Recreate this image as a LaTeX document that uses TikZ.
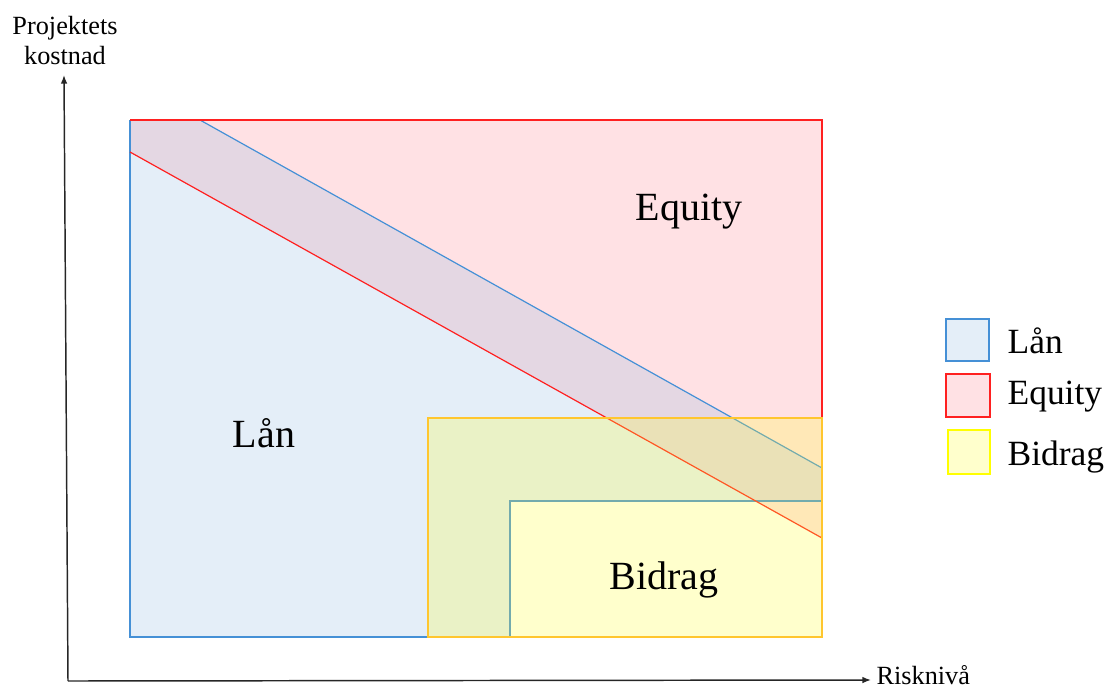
\documentclass[tikz,border=0pt]{standalone}
\usepackage{fontspec}
\setmainfont{Liberation Serif}
\usepackage{tikz}
\usetikzlibrary{arrows.meta}
\definecolor{lanLine}{HTML}{4590D6}
\definecolor{lanFill}{RGB}{147,187,227}
\definecolor{eqLine}{HTML}{FF2020}
\definecolor{eqFill}{RGB}{255,135,147}
\definecolor{bidLine}{HTML}{FFC62E}
\definecolor{bidFill}{RGB}{255,255,51}
\definecolor{keyYellow}{HTML}{FFFF00}
\definecolor{axisGray}{HTML}{262626}

\begin{document}
\begin{tikzpicture}[x=0.75pt, y=-0.75pt, line width=0.9pt,
  area/.style={fill opacity=0.25},
  bigLabel/.style={font=\fontsize{30}{36}\selectfont, anchor=base, inner sep=0pt},
  keyLabel/.style={font=\fontsize{26.6}{32}\selectfont, anchor=base west, inner sep=0pt},
  axisLabel/.style={font=\fontsize{19.7}{22.5}\selectfont, inner sep=0pt},
  keyBox/.style={line width=1.1pt}]
\useasboundingbox (0,0) rectangle (1107,689);
% axes (slightly tilted, as drawn by hand)
\coordinate (origin) at (68,681);
\coordinate (ytip) at (64,75);
\coordinate (xtip) at (871,680);
\draw[axisGray, line width=1.1pt, -{Latex[length=6.5pt,width=5pt]}] (origin) -- (ytip);
\draw[axisGray, line width=1.1pt, -{Latex[length=6.5pt,width=5pt]}] (origin) -- (xtip);
\node[axisLabel, align=center, anchor=south] (yLabel) at (65,65) {Projektets\\kostnad};
\node[axisLabel, anchor=base west] (xLabel) at (876,684) {Risknivå};
% Equity and Lån areas
\fill[eqFill, area] (130,120) -- (822,120) -- (822,538) -- (130,152) -- cycle;
\fill[lanFill, area] (130,120) -- (200,120) -- (822,468) -- (822,501) -- (510,501)
  -- (510,637) -- (130,637) -- cycle;
% their borders
\draw[lanLine] (130,120) -- (130,637) -- (428,637);
\draw[lanLine] (200,120) -- (822,468);
\draw[lanLine] (822,501) -- (510,501) -- (510,637);
\draw[eqLine] (130,152) -- (822,538);
\draw[eqLine] (130,120) -- (822,120) -- (822,418);
% Bidrag on top
\filldraw[draw=bidLine, fill=bidFill, area] (428,418) rectangle (822,637);
\node[bigLabel] (equityText) at (689,220) {Equity};
\node[bigLabel] (lanText) at (264,447) {Lån};
\node[bigLabel] (bidragText) at (664,589) {Bidrag};
% legend
\filldraw[keyBox, draw=lanLine, fill=lanFill!25] (946,319) rectangle (989,361);
\filldraw[keyBox, draw=eqLine, fill=eqFill!25] (946,374) rectangle (990,417);
\filldraw[keyBox, draw=keyYellow, fill=bidFill!25] (948,430) rectangle (990,474);
\node[keyLabel] (keyLan) at (1007,353) {Lån};
\node[keyLabel] (keyEquity) at (1007,404) {Equity};
\node[keyLabel] (keyBidrag) at (1007,465) {Bidrag};
\end{tikzpicture}
\end{document}
